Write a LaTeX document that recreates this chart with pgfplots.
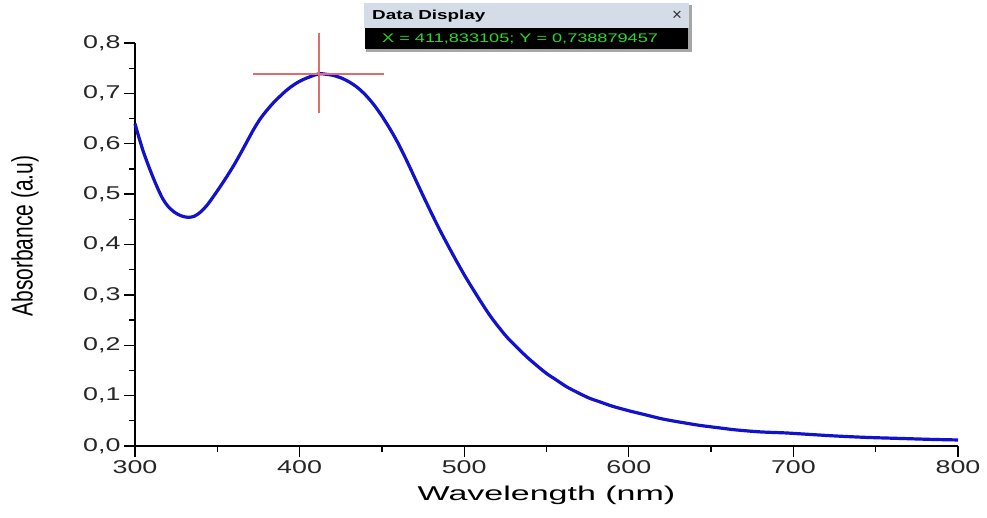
\documentclass[border=0pt]{standalone}
\usepackage{fontspec}
\setmainfont{Liberation Sans}
\usepackage{pgfplots}
\usepackage{pgfplotstable}
\pgfplotsset{compat=1.18}

\definecolor{curveblue}{RGB}{18,18,205}
\definecolor{crossred}{RGB}{222,110,110}
\definecolor{barbg}{RGB}{212,220,232}
\definecolor{dispgreen}{RGB}{45,215,45}

% absorbance spectrum
\pgfplotstableread{
wl abs
300 0.640
302 0.617
305 0.585
308 0.558
311 0.533
314 0.510
317 0.490
320 0.476
324 0.464
328 0.457
332 0.454
336 0.456
340 0.465
344 0.479
348 0.497
352 0.516
356 0.536
360 0.557
364 0.580
368 0.604
372 0.628
376 0.649
380 0.666
384 0.681
388 0.694
392 0.706
396 0.716
400 0.724
404 0.730
408 0.735
412 0.739
416 0.738
420 0.736
425 0.731
430 0.723
435 0.712
440 0.697
445 0.678
450 0.655
455 0.629
460 0.600
465 0.567
470 0.532
475 0.497
480 0.463
485 0.430
490 0.399
495 0.369
500 0.340
505 0.313
510 0.287
515 0.262
520 0.240
526 0.216
532 0.196
538 0.177
544 0.160
550 0.144
556 0.131
562 0.118
569 0.106
576 0.095
583 0.087
590 0.079
600 0.070
610 0.062
620 0.054
630 0.048
643 0.041
655 0.036
665 0.032
680 0.028
695 0.026
705 0.024
725 0.020
745 0.017
765 0.015
785 0.013
800 0.012
}\spectrum

\begin{document}
\begin{tikzpicture}
\begin{axis}[
    scale only axis,
    width=823pt, height=403pt,
    xmin=300, xmax=800, ymin=0, ymax=0.8,
    axis lines*=left,
    axis line style={line width=1.5pt},
    tick align=outside,
    major tick length=11pt, minor tick length=6pt,
    every tick/.style={black, line width=1.3pt},
    xtick={300,400,500,600,700,800},
    ytick={0,0.1,0.2,0.3,0.4,0.5,0.6,0.7,0.8},
    minor x tick num=1, minor y tick num=1,
    /pgf/number format/assume math mode=true,
    xticklabel={\scalebox{1.45}[1]{\pgfmathprintnumber{\tick}}},
    yticklabel={\scalebox{1.45}[1]{\pgfmathprintnumber[fixed,fixed zerofill,precision=1,use comma]{\tick}}},
    every tick label/.append style={font=\fontsize{18.5}{20}\selectfont, text=black!85},
    xlabel={\scalebox{1.7}[1]{Wavelength (nm)}},
    ylabel={\scalebox{1}[1.4]{Absorbance (a.u)}},
    every axis x label/.style={at={(axis description cs:0.5,-0.1216)}, anchor=center,
        font=\fontsize{20}{24}\selectfont},
    every axis y label/.style={at={(axis description cs:-0.1337,0.521)}, anchor=center,
        rotate=90, font=\fontsize{21}{24}\selectfont},
    clip=false,
]
\addplot[curveblue, line width=3.2pt, smooth, tension=0.5] table[x=wl, y=abs] {\spectrum};
% cursor of the data display
\addplot[crossred, line width=1.4pt] coordinates {(411.8,0.661) (411.8,0.819)};
\addplot[crossred, line width=1.4pt] coordinates {(371.7,0.7385) (451.3,0.7385)};
\end{axis}

\coordinate (img) at ([shift={(-135pt,446pt)}]current axis.south west);

% the "Data Display" window
\begin{scope}[shift={(img)}, x=1pt, y=-1pt]
  \fill[black!35] (366,5) rectangle (692,52);
  \fill[barbg] (364,3) rectangle (689,28);
  \fill[black] (365,28) rectangle (688,49);
  \node[anchor=west, inner sep=0pt, font=\bfseries\fontsize{13}{14}\selectfont]
    at (372,16) {\scalebox{1.45}[1]{Data Display}};
  \node[inner sep=0pt, font=\fontsize{17}{18}\selectfont, text=black!80] at (677,16) {×};
  \node[anchor=west, inner sep=0pt, text=dispgreen, font=\fontsize{12.5}{14}\selectfont]
    at (382,39) {\scalebox{1.45}[1]{X = 411,833105; Y = 0,738879457}};
\end{scope}

\pgfresetboundingbox
\path (img) rectangle ++(987pt,-517pt);
\end{tikzpicture}
\end{document}
